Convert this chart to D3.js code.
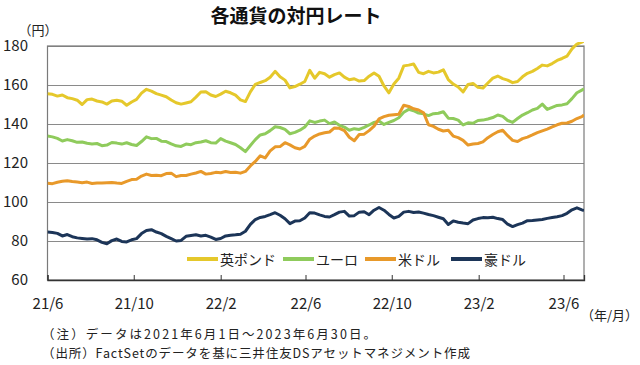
<!DOCTYPE html>
<html><head><meta charset="utf-8">
<script src="https://cdn.jsdelivr.net/npm/d3@7"></script>
<style>
html,body{margin:0;padding:0;background:#fff;}
svg{display:block;font-family:"Noto Sans CJK JP","Noto Sans",sans-serif;}
</style></head><body>
<svg id="c" width="640" height="365"></svg>
<script>
// ---- data (weekly readings, 2021-06-01 .. 2023-06-30) ----
const startDate = "2021-06-01";
const endDate = "2023-06-30";
const seriesNames = ["英ポンド", "ユーロ", "米ドル", "豪ドル"];
const seriesColors = ["#E5C82B", "#8FCB5C", "#E8992A", "#1C3558"];
const gbp = [155.5,155.2,154.3,154.9,153.5,153.0,152.2,150.0,152.5,152.8,151.8,151.3,150.2,151.8,152.2,151.7,149.6,151.3,152.6,155.8,
  157.8,156.9,155.6,154.8,154.0,152.3,150.9,150.2,150.8,151.4,153.8,156.4,156.6,154.9,154.1,155.3,156.8,156.0,154.8,152.4,
  151.5,156.5,160.3,161.3,162.2,164.0,167.0,164.2,162.5,158.5,159.2,160.4,161.8,167.5,163.5,166.5,165.8,164.0,165.3,166.2,
  164.0,162.7,163.2,162.0,162.3,164.5,166.2,164.5,159.5,156.0,160.5,163.5,169.8,170.2,170.8,166.5,165.8,167.0,166.2,166.6,
  167.8,162.8,160.5,159.0,156.5,160.3,160.8,158.8,158.4,161.0,163.5,164.6,163.3,162.5,161.2,161.8,164.2,166.0,167.0,168.5,
  170.2,169.8,171.0,172.6,173.6,174.8,178.5,181.0,182.0,182.5];
const eur = [133.8,133.4,132.6,131.3,132.0,131.4,130.6,130.8,130.1,129.8,130.0,128.9,129.2,130.5,130.2,129.7,130.4,129.5,129.0,131.0,
  133.4,132.5,132.6,131.2,131.0,129.8,128.8,128.5,129.7,129.4,130.4,130.8,131.4,130.4,130.2,132.5,131.2,130.4,129.5,127.8,
  125.8,129.0,132.0,134.4,135.0,136.6,138.6,138.2,137.2,135.0,135.7,136.8,138.5,141.6,140.8,141.5,142.0,140.2,141.0,139.3,
  138.4,136.8,137.6,137.2,138.3,139.5,140.8,141.5,139.8,140.8,141.8,143.2,146.0,147.5,146.8,145.6,145.2,144.3,145.3,145.5,
  146.3,143.0,142.8,142.0,139.5,140.6,140.4,141.8,142.0,142.6,143.3,144.6,143.9,141.8,140.8,142.8,144.6,145.8,147.2,148.0,
  150.2,147.5,148.5,149.5,149.8,150.4,153.0,156.0,157.4,158.0];
const usd = [109.6,109.4,110.1,110.6,110.9,110.5,110.2,109.9,110.2,109.5,109.8,109.7,109.9,110.0,109.7,109.5,110.6,111.5,111.7,113.3,
  114.3,113.6,113.7,113.5,114.6,114.8,113.0,113.6,113.6,114.3,114.9,115.7,114.3,114.6,115.2,115.0,115.6,115.1,115.3,114.8,
  115.7,118.5,120.8,123.7,122.6,126.2,128.3,128.4,130.4,129.3,127.8,127.2,128.5,132.2,133.8,134.9,135.5,135.9,138.0,137.8,
  136.6,133.2,131.4,134.6,134.8,136.6,138.9,142.6,143.8,144.5,144.8,145.0,149.6,149.0,147.8,147.2,145.8,139.6,138.8,137.3,
  136.4,136.8,133.8,133.0,131.6,129.2,129.7,130.0,130.8,133.0,134.6,136.0,136.8,134.0,131.6,131.0,132.5,133.3,134.4,135.6,
  136.5,137.4,138.5,139.6,140.4,140.5,141.4,142.8,143.8,144.6];
const aud = [84.6,84.4,83.9,82.6,83.3,82.2,81.6,81.3,81.0,81.2,80.6,79.3,78.6,80.2,81.0,79.8,79.5,80.6,81.2,83.8,
  85.4,85.8,84.6,83.8,82.4,81.2,80.0,80.3,82.4,82.8,83.2,82.6,82.9,82.0,80.8,81.3,82.6,83.0,83.2,83.5,
  85.0,88.5,91.0,92.1,92.6,93.5,94.5,93.2,91.4,88.9,90.2,90.4,91.8,94.5,94.3,93.4,92.6,92.3,93.5,94.8,
  95.2,92.8,93.0,94.8,95.0,93.5,95.8,97.2,95.8,93.6,91.8,92.6,94.8,95.2,94.6,94.9,94.3,93.6,93.0,92.2,
  91.4,88.5,90.3,89.6,89.2,88.9,90.8,91.5,92.0,91.9,92.2,91.5,91.0,88.6,87.4,88.4,89.2,90.4,90.5,90.8,
  91.0,91.6,92.0,92.4,93.0,94.2,96.0,97.0,96.0,95.6];
const tickDates = ["2021-06-01","2021-10-01","2022-02-01","2022-06-01","2022-10-01","2023-02-01","2023-06-01"];
const tickLabels = ["21/6","21/10","22/2","22/6","22/10","23/2","23/6"];
const yTicks = [60, 80, 100, 120, 140, 160, 180];

// ---- drawing ----
const parse = d3.timeParse("%Y-%m-%d");
const t0 = parse(startDate), t1 = parse(endDate);
const dates = d3.timeDay.range(t0, t1, 7).concat([t1]);
const allSeries = [gbp, eur, usd, aud];

const L = 47.5, R = 584, T = 46, B = 280;
const x = d3.scaleTime().domain([t0, t1]).range([L, R]);
const y = d3.scaleLinear().domain([60, 180]).range([B, T]);
const svg = d3.select("#c");

svg.append("defs").append("clipPath").attr("id", "clip")
  .append("rect").attr("x", L).attr("y", T - 4).attr("width", R - L).attr("height", B - T + 4);

// gridlines
const gy = svg.append("g").attr("transform", `translate(${L},0)`)
  .call(d3.axisLeft(y).tickValues(yTicks).tickSize(-(R - L)).tickFormat(""));
gy.select(".domain").remove();
gy.selectAll(".tick line").attr("stroke", "#8a8a8a").attr("stroke-width", 1);

// y labels
svg.append("g").selectAll("text").data(yTicks).join("text")
  .attr("x", 28).attr("y", d => y(d)).attr("dy", "0.36em")
  .attr("text-anchor", "end").attr("font-size", 15).attr("fill", "#222")
  .text(d => d);

// plot frame
svg.append("rect").attr("x", L).attr("y", T).attr("width", R - L).attr("height", B - T)
  .attr("fill", "none").attr("stroke", "#7a7a7a").attr("stroke-width", 1.2);

// x axis
const xa = svg.append("g").attr("transform", `translate(0,${B})`)
  .call(d3.axisBottom(x).tickValues(tickDates.map(parse)).tickSize(-5).tickPadding(18)
    .tickFormat((d, i) => tickLabels[i]));
xa.select(".domain").attr("stroke", "#333").attr("stroke-width", 1.3);
xa.selectAll(".tick line").attr("stroke", "#333");
xa.selectAll(".tick text").attr("font-size", 15).attr("fill", "#222")
  .style("font-family", '"Noto Sans CJK JP","Noto Sans",sans-serif');

// lines
const line = d3.line().x((d, i) => x(dates[i])).y(d => y(d)).curve(d3.curveLinear);
const lg = svg.append("g").attr("clip-path", "url(#clip)");
allSeries.forEach((s, k) => {
  lg.append("path").datum(s).attr("d", line).attr("fill", "none")
    .attr("stroke", seriesColors[k]).attr("stroke-width", 3).attr("stroke-linejoin", "round");
});

// legend
const legX = [187, 283, 365, 451];
const leg = svg.append("g");
seriesNames.forEach((n, k) => {
  leg.append("line").attr("x1", legX[k]).attr("x2", legX[k] + 31).attr("y1", 259).attr("y2", 259)
    .attr("stroke", seriesColors[k]).attr("stroke-width", 4);
  leg.append("text").attr("x", legX[k] + 33).attr("y", 264.5).attr("font-size", 14).attr("fill", "#222").text(n);
});

// texts
svg.append("text").attr("x", 296).attr("y", 23).attr("text-anchor", "middle")
  .attr("font-size", 19).attr("font-weight", "bold").attr("fill", "#111").text("各通貨の対円レート");
svg.append("text").attr("x", 38).attr("y", 35).attr("text-anchor", "middle")
  .attr("font-size", 13).attr("fill", "#222").text("（円）");
svg.append("text").attr("x", 638).attr("y", 320).attr("text-anchor", "end")
  .attr("font-size", 13).attr("fill", "#222").text("（年/月）");
svg.append("text").attr("x", 42).attr("y", 339)
  .attr("font-size", 12.5).attr("fill", "#222")
  .attr("textLength", 334).attr("lengthAdjust", "spacing")
  .text("（注）データは2021年6月1日～2023年6月30日。");
svg.append("text").attr("x", 42).attr("y", 358)
  .attr("font-size", 12.5).attr("fill", "#222")
  .attr("textLength", 428).attr("lengthAdjust", "spacing")
  .text("（出所）FactSetのデータを基に三井住友DSアセットマネジメント作成");
</script></body></html>
